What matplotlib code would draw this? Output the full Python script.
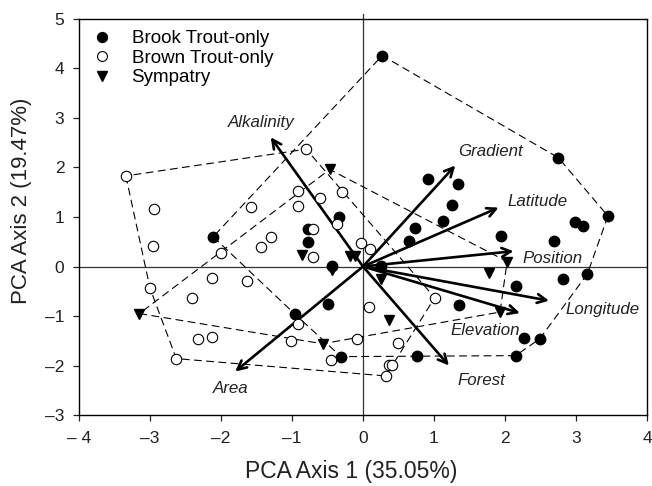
import numpy as np
import matplotlib
matplotlib.use('Agg')
import matplotlib.pyplot as plt

plt.rcParams['font.family'] = ['Liberation Sans', 'DejaVu Sans']

# site scores
brook_x = [0.27, 2.75, 3.45, 2.99, 3.10, 0.92, 1.34, 1.25, 1.12, 0.73, 0.65, 1.95, 2.69,
           0.26, 3.16, 2.82, 2.15, 1.35, 2.27, 2.49, 2.15, 0.76, -0.31, -0.49, -0.96,
           -2.11, -0.34, -0.77, -0.78, -0.43]
brook_y = [4.26, 2.20, 1.02, 0.90, 0.82, 1.77, 1.67, 1.25, 0.91, 0.78, 0.51, 0.61, 0.52,
           0.01, -0.15, -0.26, -0.40, -0.78, -1.44, -1.46, -1.80, -1.81, -1.82, -0.76, -0.96,
           0.60, 1.01, 0.75, 0.49, 0.02]

brown_x = [-3.34, -2.95, -2.96, -0.80, -0.30, -0.92, -0.60, -0.92, -1.58, -0.37, -0.71,
           -1.30, -1.43, -2.00, -0.71, -0.03, 0.10, 1.01, 0.08, -0.09, 0.50, 0.36, 0.41,
           0.32, -3.00, -2.13, -1.64, -2.41, -0.92, -2.33, -2.13, -1.01, -2.63, -0.45]
brown_y = [1.83, 1.17, 0.41, 2.37, 1.50, 1.52, 1.39, 1.22, 1.20, 0.86, 0.75,
           0.60, 0.39, 0.28, 0.20, 0.47, 0.35, -0.63, -0.82, -1.46, -1.55, -1.98, -1.98,
           -2.21, -0.44, -0.24, -0.30, -0.64, -1.16, -1.46, -1.42, -1.51, -1.86, -1.88]

symp_x = [-0.47, -0.86, -0.18, -0.11, -0.43, 0.26, 0.37, 2.03, 1.78, 1.93, -0.57, -3.15]
symp_y = [1.96, 0.24, 0.21, 0.21, -0.08, -0.25, -1.09, 0.10, -0.14, -0.92, -1.56, -0.95]

# environmental loadings (arrow tips)
vec_names = ['Alkalinity', 'Gradient', 'Latitude', 'Position',
             'Longitude', 'Elevation', 'Forest', 'Area']
vec_x = [-1.30, 1.30, 1.91, 2.12, 2.62, 2.21, 1.21, -1.80]
vec_y = [2.61, 2.04, 1.19, 0.31, -0.69, -0.94, -2.00, -2.12]
# where each label sits
lab_x = [-1.43, 1.80, 2.46, 2.67, 3.37, 1.72, 1.67, -1.86]
lab_y = [2.91, 2.33, 1.32, 0.16, -0.86, -1.30, -2.31, -2.46]


def hull(xs, ys):
    # monotone chain convex hull, returns closed polygon
    pts = sorted(zip(xs, ys))

    def cross(o, a, b):
        return (a[0] - o[0]) * (b[1] - o[1]) - (a[1] - o[1]) * (b[0] - o[0])

    lower, upper = [], []
    for p in pts:
        while len(lower) >= 2 and cross(lower[-2], lower[-1], p) <= 0:
            lower.pop()
        lower.append(p)
    for p in reversed(pts):
        while len(upper) >= 2 and cross(upper[-2], upper[-1], p) <= 0:
            upper.pop()
        upper.append(p)
    h = lower[:-1] + upper[:-1]
    h.append(h[0])
    return np.array(h)


fig = plt.figure(figsize=(6.52, 4.86), dpi=100)
ax = fig.add_axes([0.1212, 0.146, 0.8711, 0.815])

ax.axhline(0, color='#333333', lw=0.9, zorder=1)
ax.plot([0, 0], [-3, 5.1], color='#333333', lw=0.9, zorder=1, clip_on=False)

for xs, ys in [(brook_x, brook_y), (brown_x, brown_y), (symp_x, symp_y)]:
    h = hull(xs, ys)
    ax.plot(h[:, 0], h[:, 1], color='black', lw=0.8, ls=(0, (7, 4)), zorder=2)

for name, vx, vy, tx, ty in zip(vec_names, vec_x, vec_y, lab_x, lab_y):
    ax.annotate('', xy=(vx, vy), xytext=(0, 0),
                arrowprops=dict(arrowstyle='->', lw=1.9, color='black',
                                shrinkA=0, shrinkB=0, mutation_scale=16),
                zorder=3)
    ax.text(tx, ty, name, style='italic', fontsize=12.2, ha='center', va='center',
            color='#222222', zorder=4)

ax.plot(brook_x, brook_y, 'o', ms=7.5, color='black', mec='black',
        label='Brook Trout-only', zorder=5)
ax.plot(brown_x, brown_y, 'o', ms=7.5, mfc='white', mec='black', mew=0.8,
        label='Brown Trout-only', zorder=5)
ax.plot(symp_x, symp_y, 'v', ms=7.5, color='black',
        label='Sympatry', zorder=5)

ax.set_xlim(-4, 4)
ax.set_ylim(-3, 5)
ax.set_xticks(range(-4, 5))
ax.set_xticklabels(['\u2013 4', '\u20133', '\u20132', '\u20131', '0', '1', '2', '3', '4'])
ax.set_yticks(range(-3, 6))
ax.set_yticklabels(['\u20133', '\u20132', '\u20131', '0', '1', '2', '3', '4', '5'])
ax.tick_params(direction='out', length=4.5, width=0.9, labelsize=12.5, colors='#222222')
ax.tick_params(axis='x', pad=7)
ax.tick_params(axis='y', pad=6)
for s in ax.spines.values():
    s.set_linewidth(1.0)

ax.set_xlabel('PCA Axis 1 (35.05%)', fontsize=16.5, color='#222222')
ax.set_ylabel('PCA Axis 2 (19.47%)', fontsize=16, color='#222222')
ax.xaxis.set_label_coords(0.479, -0.113)
ax.yaxis.set_label_coords(-0.082, 0.54)

leg = ax.legend(loc='upper left', frameon=False, fontsize=13.5, handletextpad=1.0,
                handlelength=1.2, borderaxespad=0.2, labelspacing=0.12,
                markerscale=0.95, bbox_to_anchor=(0.0, 1.0))

fig.savefig('out.png', dpi=100)
